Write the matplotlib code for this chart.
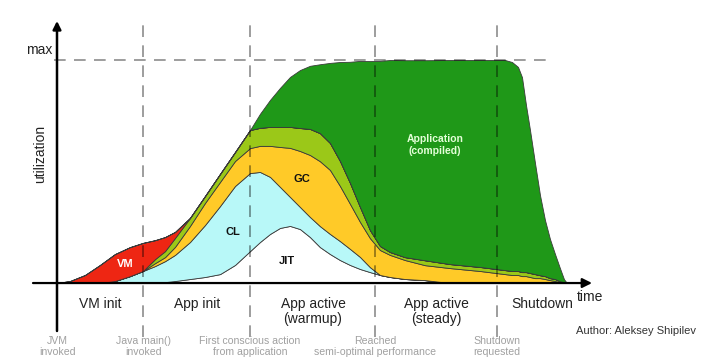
import matplotlib
matplotlib.use("Agg")
import matplotlib.pyplot as plt

plt.rcParams["font.family"] = ["Liberation Sans", "DejaVu Sans"]

# ---- data: JVM lifecycle, utilization in % of max ----------------------------
time = [0, 13, 28, 43, 58, 73, 86, 98, 108, 118, 133, 148, 163, 178, 193, 203,
        213, 223, 233, 243, 253, 263, 273, 283, 293, 303, 313, 323, 333, 348,
        368, 393, 423, 448, 455, 461, 465, 469, 473, 478, 483, 488, 493, 498,
        503, 507, 510]

jit = [0, 0, 0, 0, 0, 0, 0, 0, 0.4, 0.9, 1.8, 2.7, 4.0, 8.1, 14.3, 18.4, 22.0,
       24.7, 25.6, 24.2, 20.6, 16.1, 13.0, 10.3, 8.1, 6.3, 4.9, 3.6, 2.7, 1.8,
       1.3, 0, 0, 0, 0, 0, 0, 0, 0, 0, 0, 0, 0, 0, 0, 0, 0]
cl = [0, 0, 0, 0, 0.9, 3.1, 5.4, 7.6, 9.4, 11.7, 16.6, 23.3, 30.5, 35.4, 35.0,
      31.4, 25.6, 18.4, 13.0, 9.9, 9.0, 9.4, 9.0, 8.5, 7.2, 5.4, 2.2, 0, 0, 0,
      0, 0, 0, 0, 0, 0, 0, 0, 0, 0, 0, 0, 0, 0, 0, 0, 0]
gc = [0, 0, 0, 0, 0, 0, 0, 1.3, 1.8, 3.6, 7.2, 9.9, 10.8, 11.2, 11.2, 11.7,
      13.9, 17.9, 22.0, 25.1, 27.8, 29.1, 28.7, 24.7, 20.2, 15.7, 13.0, 11.2,
      9.9, 8.5, 6.7, 6.7, 5.4, 4.0, 3.6, 3.6, 3.1, 3.1, 2.7, 2.2, 2.2, 1.8,
      1.3, 0.9, 0.4, 0, 0]
interp = [0, 0, 0, 0, 0, 0, 0, 1.8, 2.7, 4.0, 3.6, 3.1, 3.6, 4.0, 8.1, 8.1,
          8.5, 9.0, 9.4, 10.3, 11.7, 12.6, 12.1, 11.2, 9.4, 6.7, 3.6, 1.8, 1.3,
          1.3, 2.2, 1.8, 1.8, 1.8, 1.8, 1.8, 1.8, 1.8, 1.8, 1.8, 1.3, 1.3, 0.9,
          0.9, 0.4, 0.4, 0]
vm = [0, 0.9, 3.6, 8.1, 12.1, 13.0, 12.6, 8.5, 6.3, 2.7, 0, 0, 0, 0, 0, 0, 0,
      0, 0, 0, 0, 0, 0, 0, 0, 0, 0, 0, 0, 0, 0, 0, 0, 0, 0, 0, 0, 0, 0, 0, 0,
      0, 0, 0, 0, 0, 0]
app = [0, 0, 0, 0, 0, 0, 0, 0, 0, 0, 0, 0, 0, 0, 0, 6.3, 12.1, 17.5, 22.4,
       26.0, 28.3, 30.9, 35.9, 44.4, 54.3, 65.5, 75.8, 83.0, 86.1, 88.3, 89.7,
       91.5, 92.8, 94.2, 93.7, 91.5, 87.4, 74.9, 64.1, 49.8, 35.9, 25.1, 17.5,
       11.2, 5.8, 1.3, 0]

events = [0, 86, 193, 318, 440]
event_labels = ["JVM\ninvoked", "Java main()\ninvoked",
                "First conscious action\nfrom application",
                "Reached\nsemi-optimal performance", "Shutdown\nrequested"]
phase_pos = [43, 140, 256, 379, 485]
phase_labels = ["VM init", "App init", "App active\n(warmup)",
                "App active\n(steady)", "Shutdown"]
UTIL_MAX = 100

colors = ["#ffffff", "#b8f8f8", "#ffca28", "#9bc818", "#ee2613", "#1f9818"]

# ---- figure ----------------------------------------------------------------
fig = plt.figure(figsize=(7.10, 3.64), dpi=100)
ax = fig.add_axes([0, 0, 1, 1])
ax.set_xlim(-57, 653)
ax.set_ylim(-36.3, 126.9)
ax.axis("off")

ax.stackplot(time, jit, cl, gc, interp, vm, app, colors=colors,
             edgecolor="#3a3a3a", linewidth=0.6, zorder=2)

# max level and event markers
ax.plot([-3, 490], [UTIL_MAX, UTIL_MAX], color="#000000", alpha=0.45,
        lw=1.2, dashes=(7, 5), zorder=3)
for t in events[1:]:
    ax.plot([t, t], [-24, 118], color="#000000", alpha=0.45, lw=1.2,
            dashes=(7, 5), zorder=3)

# axes with arrows
ax.annotate("", xy=(0, 117.5), xytext=(0, -21.5),
            arrowprops=dict(arrowstyle="-|>", lw=1.8, color="k",
                            mutation_scale=12, shrinkA=0, shrinkB=0), zorder=4)
ax.annotate("", xy=(535, 0), xytext=(-24, 0),
            arrowprops=dict(arrowstyle="-|>", lw=1.6, color="k",
                            mutation_scale=14, shrinkA=0, shrinkB=0), zorder=4)

ax.text(-18, 104.5, "max", fontsize=10, ha="center", va="center", color="#222")
ax.text(-17, 58, "utilization", fontsize=10, rotation=90, ha="center",
        va="center", color="#222")
ax.text(533, -6.3, "time", fontsize=10, ha="center", va="center", color="#222")

for t, lab in zip(phase_pos, phase_labels):
    ax.text(t, -6.1, lab, fontsize=10, ha="center", va="top",
            color="#222", linespacing=1.1)
for t, lab in zip(events, event_labels):
    ax.text(t, -23.6, lab, fontsize=7.6, ha="center", va="top",
            color="#a0a0a0", linespacing=1.15)

# layer labels
ax.text(68, 8.5, "VM", fontsize=8, fontweight="bold", color="white",
        ha="center", va="center", zorder=5)
ax.text(176, 22.9, "CL", fontsize=8, fontweight="bold", color="#111",
        ha="center", va="center", zorder=5)
ax.text(245, 46.6, "GC", fontsize=8, fontweight="bold", color="#111",
        ha="center", va="center", zorder=5)
ax.text(230, 9.9, "JIT", fontsize=8, fontweight="bold", color="#111",
        ha="center", va="center", zorder=5)
ax.text(378, 62, "Application\n(compiled)", fontsize=7.5, fontweight="bold",
        color="#e4ffd8", ha="center", va="center", linespacing=1.2, zorder=5)

ax.text(579, -21.5, "Author: Aleksey Shipilev", fontsize=8, ha="center",
        va="center", color="#333")

fig.savefig("out.png", dpi=100)
